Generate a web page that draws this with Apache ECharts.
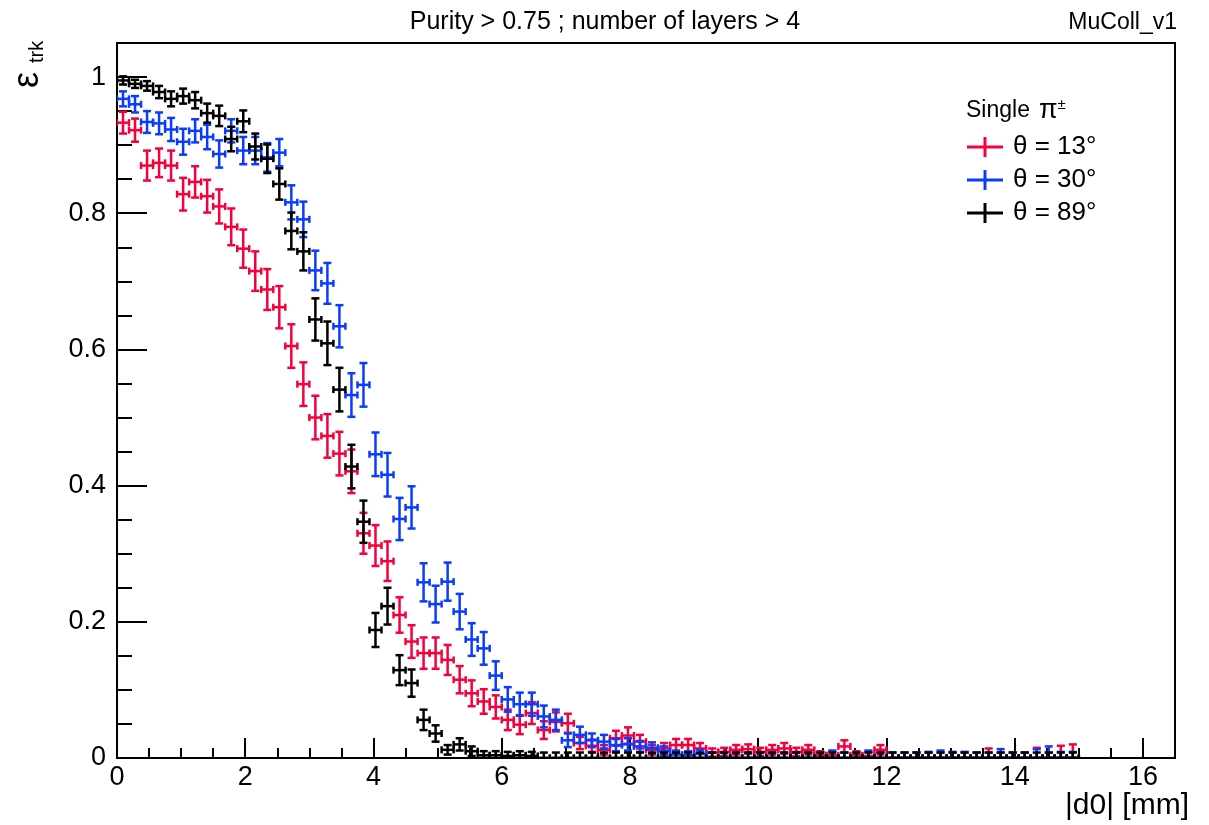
<!DOCTYPE html>
<html>
<head>
<meta charset="utf-8">
<script src="https://cdn.jsdelivr.net/npm/echarts@6/dist/echarts.min.js"></script>
<style>
html,body{margin:0;padding:0;background:#fff;}
#chart{width:1209px;height:825px;}
</style>
</head>
<body>
<div id="chart"></div>
<script>
// Histogram: 80 bins from 0 to 15 mm
const BIN_COUNT = 80;
const X_MAX_DATA = 15;
const BIN = X_MAX_DATA / BIN_COUNT;

const seriesNames = ['θ = 13°', 'θ = 30°', 'θ = 89°'];
const xTicks = [0, 2, 4, 6, 8, 10, 12, 14, 16];
const yTicks = [0, 0.2, 0.4, 0.6, 0.8, 1];

// efficiency values per bin
const eff13 = [0.933,0.922,0.870,0.874,0.870,0.828,0.846,0.825,0.810,0.780,0.748,0.715,0.688,0.662,0.605,0.549,0.500,0.473,0.447,0.421,
  0.330,0.312,0.289,0.210,0.171,0.154,0.154,0.144,0.115,0.095,0.083,0.075,0.056,0.049,0.066,0.041,0.053,0.051,0.022,0.018,
  0.012,0.029,0.033,0.024,0.012,0.014,0.019,0.019,0.014,0.008,0.009,0.012,0.013,0.009,0.012,0.014,0.009,0.012,0.004,0.004,
  0.017,0.004,0.003,0.012,0,0,0,0,0,0,0,0,0,0,0,0,0,0,0,0];
const err13 = [0.016,0.017,0.022,0.021,0.022,0.024,0.023,0.024,0.025,0.027,0.028,0.029,0.030,0.031,0.032,0.032,0.032,0.032,0.032,0.032,
  0.030,0.030,0.029,0.026,0.024,0.023,0.023,0.022,0.020,0.019,0.018,0.017,0.015,0.014,0.016,0.013,0.014,0.014,0.009,0.009,
  0.007,0.011,0.012,0.010,0.007,0.008,0.009,0.009,0.008,0.006,0.006,0.007,0.007,0.006,0.007,0.008,0.006,0.007,0.006,0.006,
  0.009,0.006,0.006,0.007,0.008,0.008,0.008,0.008,0.008,0.008,0.008,0.008,0.014,0.008,0.008,0.008,0.015,0.008,0.018,0.020];

const eff30 = [0.968,0.960,0.934,0.932,0.923,0.905,0.921,0.912,0.887,0.921,0.892,0.892,0.882,0.889,0.816,0.791,0.716,0.697,0.634,0.533,
  0.548,0.446,0.416,0.351,0.368,0.258,0.226,0.259,0.215,0.174,0.161,0.121,0.086,0.079,0.079,0.061,0.056,0.026,0.034,0.026,
  0.024,0.019,0.020,0.017,0.015,0.010,0.005,0.004,0.006,0,0,0,0,0,0,0,0,0,0,0,
  0,0,0,0,0,0,0,0,0,0,0,0,0,0,0,0,0,0,0,0];
const err30 = [0.011,0.012,0.016,0.016,0.017,0.019,0.017,0.018,0.020,0.017,0.020,0.020,0.021,0.020,0.025,0.026,0.029,0.030,0.031,0.032,
  0.032,0.032,0.032,0.031,0.031,0.028,0.027,0.028,0.026,0.024,0.024,0.021,0.018,0.017,0.017,0.016,0.015,0.010,0.012,0.010,
  0.010,0.009,0.009,0.008,0.008,0.007,0.006,0.006,0.006,0.008,0.008,0.008,0.008,0.008,0.008,0.008,0.008,0.008,0.008,0.011,
  0.008,0.008,0.011,0.008,0.008,0.008,0.008,0.009,0.011,0.009,0.009,0.008,0.008,0.013,0.008,0.008,0.013,0.017,0.009,0.009];

const eff89 = [0.995,0.990,0.987,0.978,0.968,0.972,0.966,0.947,0.943,0.909,0.935,0.898,0.880,0.843,0.774,0.744,0.644,0.609,0.541,0.428,
  0.347,0.188,0.223,0.129,0.110,0.056,0.036,0.012,0.020,0.010,0.004,0.004,0.003,0.004,0.003,0,0,0,0,0,
  0,0,0,0,0,0,0,0,0,0,0,0,0,0,0,0,0,0,0,0,
  0,0,0,0,0,0,0,0,0,0,0,0,0,0,0,0,0,0,0,0];
const err89 = [0.006,0.006,0.007,0.009,0.011,0.011,0.012,0.014,0.015,0.018,0.016,0.019,0.021,0.023,0.027,0.028,0.031,0.032,0.032,0.032,
  0.031,0.025,0.027,0.022,0.020,0.015,0.012,0.007,0.009,0.007,0.006,0.006,0.006,0.006,0.006,0.008,0.008,0.008,0.008,0.008,
  0.008,0.008,0.008,0.008,0.008,0.008,0.008,0.008,0.008,0.008,0.008,0.008,0.008,0.008,0.008,0.008,0.008,0.008,0.008,0.008,
  0.008,0.008,0.008,0.008,0.008,0.008,0.008,0.008,0.008,0.008,0.008,0.008,0.008,0.008,0.008,0.008,0.008,0.008,0.008,0.008];

const colors = ['#f5003a', '#0a3cff', '#000000'];
const FONT = '"Liberation Sans", Arial, Helvetica, sans-serif';

function toData(vals, errs) {
  return vals.map((v, i) => [BIN * (i + 0.5), v, errs[i]]);
}

function renderItem(params, api) {
  const c = api.value(0), v = api.value(1), e = api.value(2);
  const color = api.visual('color');
  const lo = Math.max(0, v - e), hi = v + e;
  const a = api.coord([c - BIN / 2, v]);
  const b = api.coord([c + BIN / 2, v]);
  const t = api.coord([c, hi]);
  const d = api.coord([c, lo]);
  const VC = 4, HC = 3.5;
  const st = { stroke: color, lineWidth: 2.5 };
  const segs = [
    [a[0], a[1], b[0], b[1]],
    [t[0], t[1], d[0], d[1]],
    [t[0] - VC, t[1], t[0] + VC, t[1]],
    [d[0] - VC, d[1], d[0] + VC, d[1]],
    [a[0], a[1] - HC, a[0], a[1] + HC],
    [b[0], b[1] - HC, b[0], b[1] + HC]
  ];
  return {
    type: 'group',
    children: segs.map(s => ({ type: 'line', shape: { x1: s[0], y1: s[1], x2: s[2], y2: s[3] }, style: st }))
  };
}

const chart = echarts.init(document.getElementById('chart'), null, { renderer: 'canvas' });

const axisCommon = {
  axisLine: { show: true, lineStyle: { color: '#000', width: 2 } },
  splitLine: { show: false },
};

const legendY = [147, 180, 213];
const legendGraphics = [];
seriesNames.forEach((n, i) => {
  legendGraphics.push({ type: 'line', shape: { x1: 967, y1: legendY[i], x2: 1003, y2: legendY[i] }, style: { stroke: colors[i], lineWidth: 3 } });
  legendGraphics.push({ type: 'line', shape: { x1: 985, y1: legendY[i] - 10, x2: 985, y2: legendY[i] + 10 }, style: { stroke: colors[i], lineWidth: 3 } });
  legendGraphics.push({ type: 'text', x: 1013, y: legendY[i], style: { text: n, font: '26px ' + FONT, fill: '#000', textAlign: 'left', textVerticalAlign: 'middle', align: 'left', verticalAlign: 'middle' } });
});

chart.setOption({
  animation: false,
  backgroundColor: '#fff',
  grid: { left: 117, right: 34, top: 43, bottom: 67, show: true, borderColor: '#000', borderWidth: 2, backgroundColor: 'transparent' },
  xAxis: [
    Object.assign({}, axisCommon, {
      type: 'value', min: 0, max: 16.5, interval: 2, position: 'bottom',
      axisTick: { show: true, inside: true, length: 20, lineStyle: { color: '#000', width: 2 } },
      axisLabel: { show: true, fontSize: 27, color: '#000', margin: 6, fontFamily: FONT, showMaxLabel: false,
        formatter: v => xTicks.indexOf(v) >= 0 ? String(v) : '' }
    }),
    {
      type: 'value', min: 0, max: 16.5, interval: 0.5, position: 'bottom',
      axisLine: { show: false }, splitLine: { show: false }, axisLabel: { show: false },
      axisTick: { show: true, inside: true, length: 10, lineStyle: { color: '#000', width: 2 } }
    }
  ],
  yAxis: [
    Object.assign({}, axisCommon, {
      type: 'value', min: 0, max: 1.05, interval: 0.2, position: 'left',
      axisTick: { show: true, inside: true, length: 30, lineStyle: { color: '#000', width: 2 } },
      axisLabel: { show: true, fontSize: 27, color: '#000', margin: 11, fontFamily: FONT, showMaxLabel: false,
        formatter: v => { const r = Math.round(v * 10) / 10; return yTicks.indexOf(r) >= 0 ? String(r) : ''; } }
    }),
    {
      type: 'value', min: 0, max: 1.05, interval: 0.05, position: 'left',
      axisLine: { show: false }, splitLine: { show: false }, axisLabel: { show: false },
      axisTick: { show: true, inside: true, length: 15, lineStyle: { color: '#000', width: 2 } }
    }
  ],
  series: [
    { name: seriesNames[0], type: 'custom', renderItem, data: toData(eff13, err13), itemStyle: { color: colors[0] }, encode: { x: 0, y: 1 }, clip: true, z: 2 },
    { name: seriesNames[1], type: 'custom', renderItem, data: toData(eff30, err30), itemStyle: { color: colors[1] }, encode: { x: 0, y: 1 }, clip: true, z: 3 },
    { name: seriesNames[2], type: 'custom', renderItem, data: toData(eff89, err89), itemStyle: { color: colors[2] }, encode: { x: 0, y: 1 }, clip: true, z: 4 }
  ],
  graphic: [
    { type: 'text', x: 605, y: 22, style: { text: 'Purity > 0.75 ; number of layers > 4', font: '25px ' + FONT, fill: '#000', textAlign: 'center', textVerticalAlign: 'middle', align: 'center', verticalAlign: 'middle' } },
    { type: 'text', x: 1177, y: 23, style: { text: 'MuColl_v1', font: '23px ' + FONT, fill: '#000', textAlign: 'right', textVerticalAlign: 'middle', align: 'right', verticalAlign: 'middle' } },
    { type: 'text', x: 1189, y: 806, style: { text: '|d0| [mm]', font: '30px ' + FONT, fill: '#000', textAlign: 'right', textVerticalAlign: 'middle', align: 'right', verticalAlign: 'middle' } },
    { type: 'group', x: 46, y: 88, rotation: Math.PI / 2, children: [
      { type: 'text', x: 0, y: 0, style: { text: 'ε', font: '36px ' + FONT, fill: '#000', textAlign: 'left', textVerticalAlign: 'bottom', align: 'left', verticalAlign: 'bottom' } },
      { type: 'text', x: 25, y: 1, style: { text: 'trk', font: '20px ' + FONT, fill: '#000', textAlign: 'left', textVerticalAlign: 'bottom', align: 'left', verticalAlign: 'bottom' } }
    ] },
    { type: 'text', x: 966, y: 111, style: { text: '{a|Single}{b|π}{c|±}', fill: '#000', textAlign: 'left', textVerticalAlign: 'middle', align: 'left', verticalAlign: 'middle',
      rich: { a: { fontSize: 23, fontFamily: FONT, color: '#000' }, b: { fontSize: 27, fontFamily: FONT, padding: [0, 0, 0, 9], color: '#000' }, c: { fontSize: 15, fontFamily: FONT, verticalAlign: 'top', color: '#000' } } } }
  ].concat(legendGraphics)
});
</script>
</body>
</html>
